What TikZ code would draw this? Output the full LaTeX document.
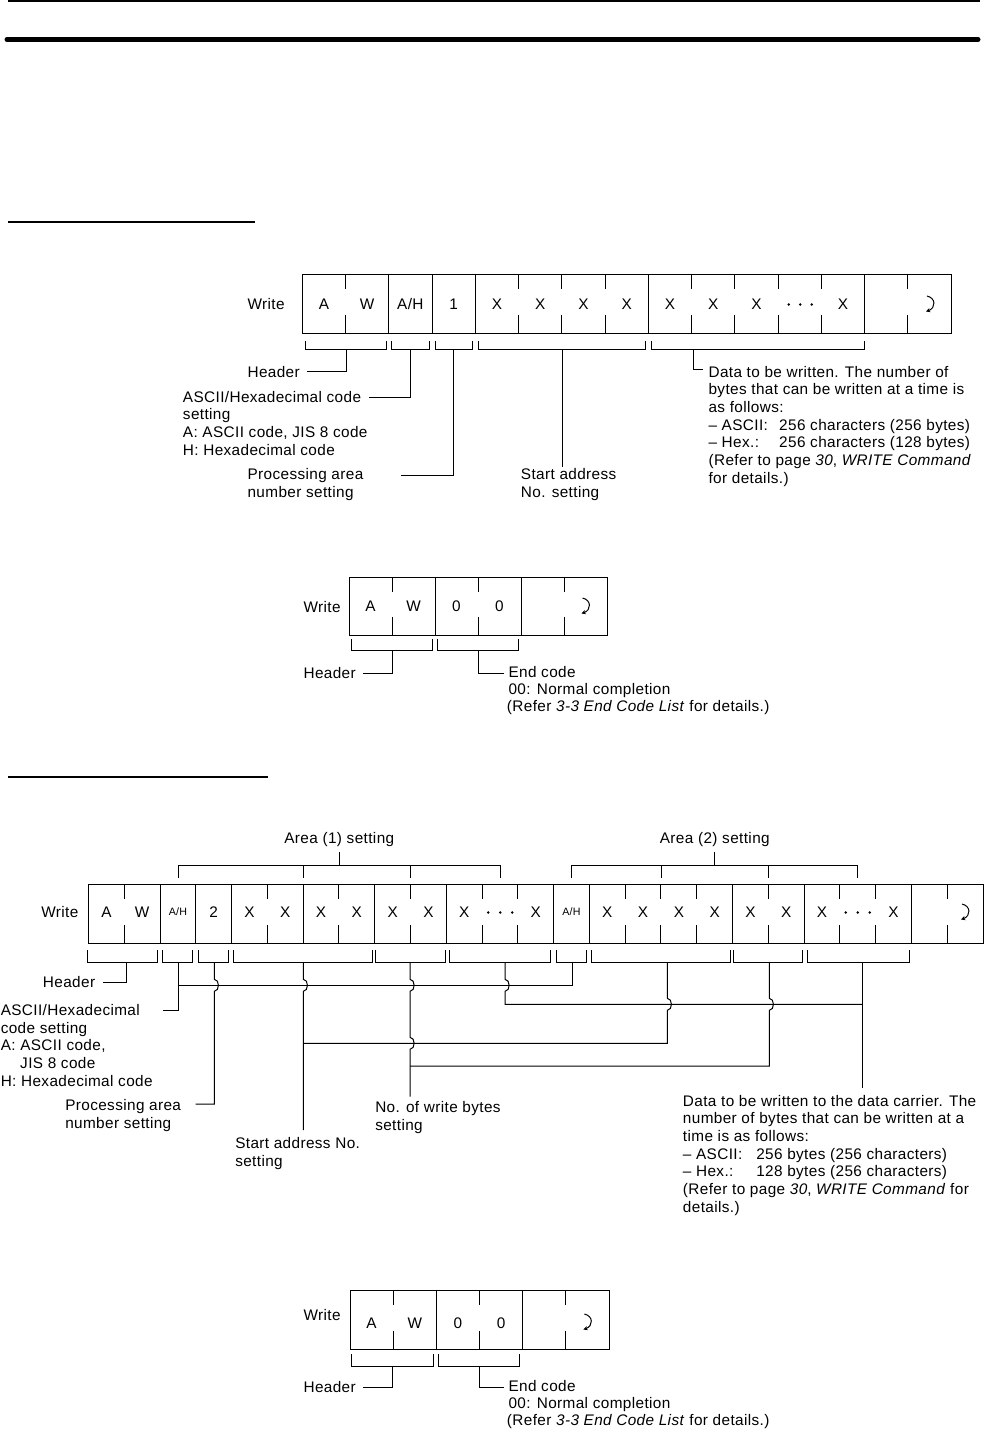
\documentclass[tikz,border=0pt]{standalone}
\usepackage{fontspec}
\setmainfont{Liberation Sans}[LetterSpace=2.5]
\usetikzlibrary{arrows.meta}
\tikzset{
  ln/.style={line width=0.75pt, black},
  lbl/.style={font=\fontsize{11.5}{13.3}\selectfont, inner sep=0pt, anchor=base west, align=left},
  cel/.style={font=\fontsize{11.5}{13.3}\selectfont, inner sep=0pt, anchor=base},
  sml/.style={font=\fontsize{8}{9}\selectfont, inner sep=0pt, anchor=base},
}
\newcommand\hdv[3]{\draw[ln] (#1,#2) -- ++(0,15) (#1,#3) -- ++(0,-18);}
\newcommand\fdv[3]{\draw[ln] (#1,#2) -- (#1,#3);}
\newcommand\brkt[4]{\draw[ln] (#1,#3) -- (#1,#4) -- (#2,#4) -- (#2,#3);}
\newcommand\retsym[2]{\draw[ln,-{Stealth[length=3.2pt,width=3.2pt]}] (#1-3,#2-8) .. controls (#1+6,#2-6) and (#1+6,#2+4) .. (#1-4,#2+7.5);}
\begin{document}
\begin{tikzpicture}[x=0.75pt,y=-0.75pt]
\useasboundingbox (0,0) rectangle (984,1429);
% page rules
\draw[line width=1.6pt] (8,1) -- (980,1);
\draw[line width=3.75pt, line cap=round] (7,39.5) -- (978,39.5);
\draw[line width=0.9pt] (8,222) -- (255,222);
\draw[line width=0.9pt] (8,777) -- (268,777);

% ================= Diagram 1 =================
\node[lbl] (w1) at (247.3,309.5) {Write};
\draw[ln] (302.3,274) rectangle (951.1,333);
\foreach \k in {2,3,4,8,13} {\fdv{302.3+43.25*\k}{274}{333}}
\foreach \k in {1,5,6,7,9,10,11,12,14} {\hdv{302.3+43.25*\k}{274}{333}}
\foreach \k/\t in {0/A,1/W,2/{A/H},3/1,4/X,5/X,6/X,7/X,8/X,9/X,10/X,12/X}
  {\node[cel] (ca\k) at (302.3+43.25*\k+21.6,309.5) {\t};}
\foreach \d in {-11.5,0,11.5} {\fill (800.2+\d,304.5) circle[radius=1.4];}
\retsym{930}{304}
\brkt{305.7}{386.7}{341}{349}
\brkt{391.7}{429.3}{341}{349}
\brkt{435}{472.3}{341}{349}
\brkt{478.3}{645}{341}{349}
\brkt{651}{864.3}{341}{349}
\draw[ln] (346,349) |- (306.7,371.7);
\draw[ln] (410.6,349) |- (369.3,397);
\draw[ln] (453.9,349) |- (400.7,475);
\draw[ln] (562.1,349) -- (562.1,466.7);
\draw[ln] (693,349) |- (702.7,369.3);
\node[lbl] (hdr1) at (247.3,377) {Header};
\node[lbl] (ah1) at (182.7,455.2) {ASCII/Hexadecimal code\\setting\\A: ASCII code, JIS 8 code\\H: Hexadecimal code};
\node[lbl] (pa1) at (247.3,497.7) {Processing area\\number setting};
\node[lbl] (sa1) at (520.7,497.7) {Start address\\No. setting};
\node[lbl] (dt1) at (708.3,483.4) {Data to be written. The number of\\bytes that can be written at a time is\\as follows:\\\makebox[53pt][l]{\textendash{} ASCII:}256 characters (256 bytes)\\\makebox[53pt][l]{\textendash{} Hex.:}256 characters (128 bytes)\\(Refer to page \textit{30}, \textit{WRITE Command}\\for details.)};

% ================= Diagram 2 =================
\node[lbl] (w2) at (303.3,612) {Write};
\draw[ln] (349,577.3) rectangle (607,635);
\foreach \x in {435,521} {\fdv{\x}{577.3}{635}}
\foreach \x in {392,478,564} {\hdv{\x}{577.3}{635}}
\foreach \x/\t/\n in {370.5/A/a,413.5/W/b,456.5/0/c,499.5/0/d}
  {\node[cel] (cb\n) at (\x,611.5) {\t};}
\retsym{585.5}{606}
\brkt{351}{432.3}{639.3}{650.7}
\brkt{437.7}{518.3}{639.3}{650.7}
\draw[ln] (392,650.7) |- (363.3,673);
\draw[ln] (478,650.7) |- (504.3,673);
\node[lbl] (h2) at (303.3,678) {Header};
\node[lbl,font=\fontsize{11.5}{12.6}\selectfont] (e2) at (508.3,711.1) {End code\\00: Normal completion\\\hspace*{-1.2pt}(Refer \textit{3-3 End Code List} for details.)};

% ================= Diagram 3 =================
\node[cel] (ar1) at (339.3,843) {Area (1) setting};
\node[cel] (ar2) at (714.8,843) {Area (2) setting};
\draw[ln] (339.3,852.3) -- (339.3,865.7);
\draw[ln] (178.4,878.3) -- (178.4,865.7) -- (500.2,865.7) -- (500.2,878.3);
\draw[ln] (303.6,865.7) -- (303.6,878.3) (410.8,865.7) -- (410.8,878.3);
\draw[ln] (714.8,852.3) -- (714.8,865.7);
\draw[ln] (571.8,878.3) -- (571.8,865.7) -- (857.8,865.7) -- (857.8,878.3);
\draw[ln] (661.2,865.7) -- (661.2,878.3) (768.4,865.7) -- (768.4,878.3);

\node[lbl] (w3) at (41,917) {Write};
\draw[ln] (88.5,884.3) rectangle (983,943.3);
\foreach \k in {2,3,4,6,8,10,13,14,18,20,23} {\fdv{88.5+35.78*\k}{884.3}{943.3}}
\foreach \k in {1,5,7,9,11,12,15,16,17,19,21,22,24} {\hdv{88.5+35.78*\k}{884.3}{943.3}}
\foreach \k/\t in {0/A,1/W,3/2,4/X,5/X,6/X,7/X,8/X,9/X,10/X,12/X,14/X,15/X,16/X,17/X,18/X,19/X,20/X,22/X}
  {\node[cel] (cc\k) at (88.5+35.78*\k+17.89,917.5) {\t};}
\node[sml] (cc2) at (88.5+35.78*2+17.89,915.5) {A/H};
\node[sml] (cc13) at (88.5+35.78*13+17.89,915.5) {A/H};
\foreach \d in {-12,0,12} {\fill (500.2+\d,912.5) circle[radius=1.4]; \fill (857.8+\d,912.5) circle[radius=1.4];}
\retsym{965}{912}

\brkt{87.3}{157.3}{950}{962.3}
\brkt{162.7}{192.7}{950}{962.3}
\brkt{198.3}{228.3}{950}{962.3}
\brkt{233.3}{372.3}{950}{962.3}
\brkt{375.5}{445}{950}{962.3}
\brkt{449.3}{550.7}{950}{962.3}
\brkt{556}{586.7}{950}{962.3}
\brkt{591.7}{730}{950}{962.3}
\brkt{733.3}{802.3}{950}{962.3}
\brkt{807.3}{909.3}{950}{962.3}

% leaders
\draw[ln] (126,962.3) |- (102.7,982.7);
\draw[ln] (178.3,962.3) |- (163.3,1010);
\draw[ln] (178.3,985.3) -- (572.7,985.3) -- (572.7,962.3);
\draw[ln] (214.3,962.3) -- (214.3,979.3) .. controls (219.8,979.3) and (219.8,991.3) .. (214.3,991.3) -- (214.3,1104) -- (195.7,1104);
\draw[ln] (303.3,962.3) -- (303.3,979.3) .. controls (308.8,979.3) and (308.8,991.3) .. (303.3,991.3) -- (303.3,1130);
\draw[ln] (303.3,1043.3) -- (667.3,1043.3) -- (667.3,1010.3) .. controls (672.8,1010.3) and (672.8,998.3) .. (667.3,998.3) -- (667.3,962.3);
\draw[ln] (410,962.3) -- (410,979.3) .. controls (415.5,979.3) and (415.5,991.3) .. (410,991.3) -- (410,1037.3) .. controls (415.5,1037.3) and (415.5,1049.3) .. (410,1049.3) -- (410,1096.7);
\draw[ln] (410,1066) -- (769.3,1066) -- (769.3,1010.3) .. controls (774.8,1010.3) and (774.8,998.3) .. (769.3,998.3) -- (769.3,962.3);
\draw[ln] (505,962.3) -- (505,979.3) .. controls (510.5,979.3) and (510.5,991.3) .. (505,991.3) -- (505,1004.3) -- (862.7,1004.3);
\draw[ln] (862.7,962.3) -- (862.7,1088.3);

\node[lbl] (hdr3) at (42.7,987.5) {Header};
\node[lbl] (ah3) at (0.5,1086.4) {ASCII/Hexadecimal\\code setting\\A: ASCII code,\\\hspace*{14.6pt}JIS 8 code\\H: Hexadecimal code};
\node[lbl] (pa3) at (65,1128.7) {Processing area\\number setting};
\node[lbl] (sa3) at (235,1166) {Start address No.\\setting};
\node[lbl] (wb3) at (375,1130.4) {No. of write bytes\\setting};
\node[lbl] (dt3) at (682.7,1212.4) {Data to be written to the data carrier. The\\number of bytes that can be written at a\\time is as follows:\\\makebox[55pt][l]{\textendash{} ASCII:}256 bytes (256 characters)\\\makebox[55pt][l]{\textendash{} Hex.:}128 bytes (256 characters)\\(Refer to page \textit{30}, \textit{WRITE Command} for\\details.)};

% ================= Diagram 4 =================
\node[lbl] (w4) at (303.3,1320.5) {Write};
\draw[ln] (350,1290) rectangle (609,1349.3);
\foreach \x in {436.3,522.7} {\fdv{\x}{1290}{1349.3}}
\foreach \x in {393.2,479.5,565.8} {\hdv{\x}{1290}{1349.3}}
\foreach \x/\t/\n in {371.6/A/a,414.8/W/b,457.9/0/c,501.1/0/d}
  {\node[cel] (cd\n) at (\x,1328.5) {\t};}
\retsym{587.4}{1322}
\brkt{351.7}{433.3}{1354}{1366.7}
\brkt{438.3}{519.3}{1354}{1366.7}
\draw[ln] (392.7,1366.7) |- (362.7,1387.3);
\draw[ln] (479.3,1366.7) |- (504.3,1387.3);
\node[lbl] (h4) at (303.3,1392.5) {Header};
\node[lbl,font=\fontsize{11.5}{12.6}\selectfont] (e4) at (508.3,1425.1) {End code\\00: Normal completion\\\hspace*{-1.2pt}(Refer \textit{3-3 End Code List} for details.)};
\end{tikzpicture}
\end{document}
